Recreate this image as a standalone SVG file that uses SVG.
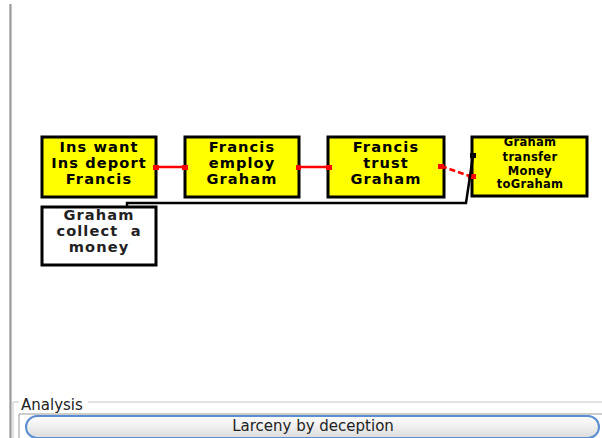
<svg xmlns="http://www.w3.org/2000/svg" width="602" height="438" viewBox="0 0 602 438">
<defs>
<linearGradient id="cap" x1="0" y1="0" x2="0" y2="1">
<stop offset="0" stop-color="#fdfdfd"/>
<stop offset="0.5" stop-color="#eeeeee"/>
<stop offset="1" stop-color="#dcdcdc"/>
</linearGradient>
<linearGradient id="side" x1="0" y1="0" x2="1" y2="0">
<stop offset="0" stop-color="#d0d0d0"/>
<stop offset="0.5" stop-color="#9a9a9a"/>
<stop offset="1" stop-color="#d8d8d8"/>
</linearGradient>
</defs>
<style>
.box{stroke:#000;stroke-width:3;}
.y{fill:#ffff00;}
.w{fill:#ffffff;}
.t{font-family:"DejaVu Sans",Verdana,sans-serif;font-weight:bold;font-size:14.6px;letter-spacing:1.1px;text-anchor:middle;fill:#000;}
.ts{font-family:"DejaVu Sans",Verdana,sans-serif;font-weight:bold;font-size:11.5px;letter-spacing:0.3px;text-anchor:middle;fill:#000;}
.tw{fill:#222;}
.red{stroke:#ff0000;stroke-width:2.5;fill:none;}
.redd{stroke:#ff0000;stroke-width:2.5;fill:none;stroke-dasharray:6 3;}
.blk{stroke:#000;stroke-width:2.5;fill:none;}
.sq{fill:#ff0000;}
.ui{font-family:"DejaVu Sans",Verdana,sans-serif;font-size:15px;fill:#222;}
</style>
<rect x="0" y="0" width="602" height="438" fill="#ffffff"/>
<rect x="9" y="4" width="3" height="434" fill="url(#side)"/>

<g id="n1">
<rect class="box y" x="42" y="137" width="114" height="60"/>
<text class="t" x="99" y="152">Ins want</text>
<text class="t" x="99" y="168">Ins deport</text>
<text class="t" x="99" y="184">Francis</text>
</g>
<g id="n2">
<rect class="box y" x="185" y="137" width="114" height="60"/>
<text class="t" x="242" y="152">Francis</text>
<text class="t" x="242" y="168">employ</text>
<text class="t" x="242" y="184">Graham</text>
</g>
<g id="n3">
<rect class="box y" x="328" y="137" width="116" height="60"/>
<text class="t" x="386" y="152">Francis</text>
<text class="t" x="386" y="168">trust</text>
<text class="t" x="386" y="184">Graham</text>
</g>
<g id="n4">
<rect class="box y" x="472" y="137" width="115" height="59"/>
<text class="ts" x="530" y="146">Graham</text>
<text class="ts" x="530" y="161">transfer</text>
<text class="ts" x="530" y="175">Money</text>
<text class="ts" x="530" y="188">toGraham</text>
</g>
<g id="n5">
<rect class="box w" x="42" y="207" width="114" height="58"/>
<text class="t tw" x="99" y="220">Graham</text>
<text class="t tw" x="99" y="236" xml:space="preserve">collect  a</text>
<text class="t tw" x="99" y="252">money</text>
</g>

<g id="connectors">
<line class="red" x1="156" y1="167" x2="184" y2="167"/>
<rect class="sq" x="153" y="165" width="6" height="5"/>
<rect class="sq" x="182" y="165" width="6" height="5"/>
<line class="red" x1="299" y1="167" x2="328" y2="167"/>
<rect class="sq" x="296" y="165" width="5" height="5"/>
<rect class="sq" x="326" y="165" width="6" height="5"/>
<line class="redd" x1="441" y1="166" x2="472" y2="177"/>
<rect class="sq" x="438" y="164" width="6" height="5"/>
<rect class="sq" x="468" y="174" width="8" height="5"/>
<path class="blk" d="M127,208 L127,203 L466,203 L473,156"/>
<rect x="470" y="153" width="6" height="5" fill="#000"/>
</g>

<g id="analysis">
<path d="M19,402 L13,402 L13,438 M88,402 L602,402" stroke="#c8c8c8" stroke-width="1" fill="none"/>
<text class="ui" x="21" y="410">Analysis</text>
<path d="M19,438 L19,414 L602,414" stroke="#9a9a9a" stroke-width="1" fill="none"/>
<rect x="26" y="416" width="573" height="22" rx="11" ry="11" fill="url(#cap)" stroke="#5b8ed0" stroke-width="2"/>
<text class="ui" x="313" y="431" text-anchor="middle">Larceny by deception</text>
</g>
</svg>
